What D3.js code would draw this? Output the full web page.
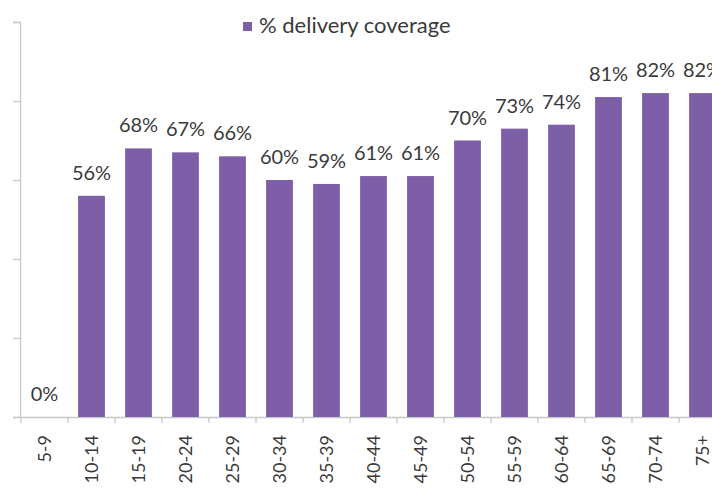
<!DOCTYPE html>
<html>
<head>
<meta charset="utf-8">
<script src="https://cdn.jsdelivr.net/npm/d3@7"></script>
<style>
  html, body { margin: 0; padding: 0; background: #ffffff; }
  svg { display: block; font-family: Lato, "Open Sans", sans-serif; }
</style>
</head>
<body>
<svg id="chart" width="712" height="492"></svg>
<script>
const categories = ["5-9","10-14","15-19","20-24","25-29","30-34","35-39","40-44","45-49","50-54","55-59","60-64","65-69","70-74","75+"];
const coverage = [0,56,68,67,66,60,59,61,61,70,73,74,81,82,82];
const yTicks = [0,20,40,60,80,100];
const seriesName = "% delivery coverage";

const svg = d3.select("#chart");
const barColor = "#7d5fa7";
const textColor = "#3a3a3a";
const axisColor = "#c8c8c8";

const x = d3.scaleBand().domain(categories).range([21, 726]).paddingInner(0.43).paddingOuter(0.215);
const y = d3.scaleLinear().domain([0, 100]).range([417, 22]);

// y axis
const yAxis = svg.append("g").attr("transform", "translate(20,0)")
  .call(d3.axisLeft(y).tickValues(yTicks).tickSize(7).tickFormat(""));
yAxis.selectAll("path, line").attr("stroke", axisColor).attr("stroke-width", 1.3);

// x axis
const xAxis = svg.append("g").attr("transform", "translate(0,417)")
  .call(d3.axisBottom(x).tickSize(0).tickFormat(""));
xAxis.select("path").attr("stroke", axisColor).attr("stroke-width", 1.3);
// tick marks between categories
svg.append("g").selectAll("line")
  .data(categories)
  .join("line")
  .attr("x1", d => x(d) - x.step() * x.paddingInner() / 2)
  .attr("x2", d => x(d) - x.step() * x.paddingInner() / 2)
  .attr("y1", 417).attr("y2", 423)
  .attr("stroke", axisColor).attr("stroke-width", 1.3);

// bars
svg.append("g").selectAll("rect")
  .data(coverage)
  .join("rect")
  .attr("x", (d, i) => x(categories[i]))
  .attr("width", x.bandwidth())
  .attr("y", d => y(d))
  .attr("height", d => y(0) - y(d))
  .attr("fill", barColor);

// value labels
svg.append("g").selectAll("text")
  .data(coverage)
  .join("text")
  .attr("x", (d, i) => x(categories[i]) + x.bandwidth() / 2)
  .attr("y", d => y(d) - 16)
  .attr("text-anchor", "middle")
  .attr("font-size", 20)
  .attr("fill", textColor)
  .text(d => d + "%");

// category labels (rotated)
svg.append("g").selectAll("text")
  .data(categories)
  .join("text")
  .attr("transform", d => `translate(${x(d) + x.bandwidth() / 2},435) rotate(-90)`)
  .attr("text-anchor", "end")
  .attr("dy", "0.35em")
  .attr("font-size", 18)
  .attr("fill", textColor)
  .text(d => d);

// legend
const legend = svg.append("g");
legend.append("rect").attr("x", 243).attr("y", 22).attr("width", 9).attr("height", 9).attr("fill", barColor);
legend.append("text").attr("x", 259).attr("y", 33)
  .attr("font-size", 22).attr("fill", textColor).text(seriesName);
</script>
</body>
</html>
